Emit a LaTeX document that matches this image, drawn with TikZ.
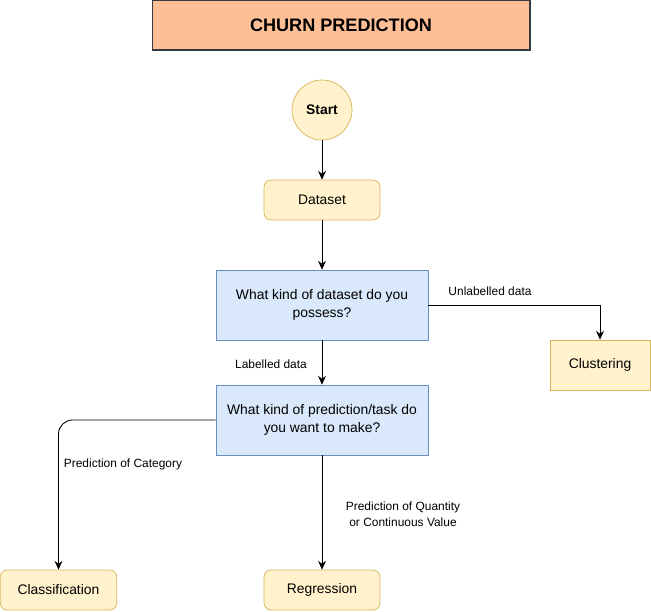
\documentclass[tikz,border=0pt]{standalone}
\usepackage{fontspec}
\setmainfont{Liberation Sans}
\usetikzlibrary{arrows.meta,positioning}

\definecolor{titlefill}{HTML}{FFBF96}
\definecolor{titledraw}{HTML}{36393D}
\definecolor{yellowfill}{HTML}{FFF2CC}
\definecolor{yellowdraw}{HTML}{D6B656}
\definecolor{bluefill}{HTML}{DAE8FC}
\definecolor{bluedraw}{HTML}{6C8EBF}

\tikzset{
    yellowbox/.style={draw=yellowdraw, fill=yellowfill, rectangle, rounded corners=4pt,
        minimum width=2.32cm, minimum height=0.8cm, inner sep=0pt, font=\fontsize{7.9}{9.5}\selectfont},
    questionbox/.style={draw=bluedraw, fill=bluefill, rectangle, align=center,
        minimum width=4.24cm, minimum height=1.4cm, inner sep=0pt, font=\fontsize{7.9}{10.2}\selectfont},
    edgelabel/.style={inner sep=0pt, align=center, font=\fontsize{6.8}{9.2}\selectfont},
    flow/.style={-{Stealth[length=5pt,width=4.5pt]}, line width=0.5pt}
}

\begin{document}
\begin{tikzpicture}[x=0.02cm, y=-0.02cm]

    \useasboundingbox (0,0) rectangle (651,611);

    % Nodo para el titulo
    \node (title) [draw=titledraw, fill=titlefill, line width=0.6pt, minimum width=7.56cm, minimum height=1cm,
        font=\fontsize{10.3}{12}\selectfont\bfseries] at (341,25) {CHURN PREDICTION};

    % Nodo de inicio
    \node (start) [draw=yellowdraw, fill=yellowfill, circle, minimum size=1.2cm, inner sep=0pt,
        font=\fontsize{7.9}{9.5}\selectfont\bfseries] at (322,110) {Start};

    % Nodos del flujo principal
    \node (dataset) [yellowbox] at (322,200) {Dataset};
    \node (kinddata) [questionbox] at (322,305) {What kind of dataset do you\\possess?};
    \node (kindtask) [questionbox] at (322,420) {What kind of prediction/task do\\you want to make?};

    % Nodos de resultado
    \node (clustering) [yellowbox, rounded corners=0pt, minimum width=2cm, minimum height=1cm] at (600,365) {Clustering};
    \node (classification) [yellowbox, minimum width=2.33cm] at (58.5,590) {Classification};
    \node (regression) [yellowbox] at (322,590) {Regression};

    % Conectar nodos con flechas
    \draw[flow] (start) -- (dataset);
    \draw[flow] (dataset) -- (kinddata);
    \draw[flow] (kinddata.east) -| (clustering.north);
    \draw[flow] (kinddata) -- (kindtask);
    \draw[flow, rounded corners=8pt] (kindtask.west) -| (classification.north);
    \draw[flow] (kindtask) -- (regression);

    % Etiquetas de las flechas
    \node (unlabelled) [edgelabel] at (490,291) {Unlabelled data};
    \node (labelled) [edgelabel] at (271,364) {Labelled data};
    \node (category) [edgelabel] at (123,464) {Prediction of Category};
    \node (quantity) [edgelabel] at (403,514) {Prediction of Quantity\\or Continuous Value};

\end{tikzpicture}
\end{document}
